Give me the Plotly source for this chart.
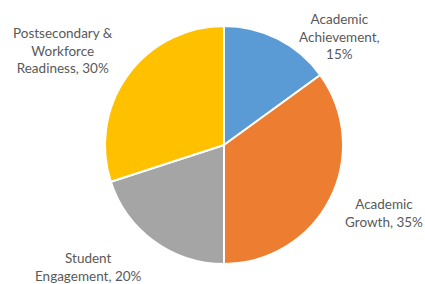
import plotly.graph_objects as go

categories = ["Academic Achievement", "Academic Growth", "Student Engagement", "Postsecondary & Workforce Readiness"]
values = [15, 35, 20, 30]
colors = ["#5B9BD5", "#ED7D31", "#A5A5A5", "#FFC000"]
label_lines = [
    ["Academic", "Achievement,", "{v}%"],
    ["Academic", "Growth, {v}%"],
    ["Student", "Engagement, {v}%"],
    ["Postsecondary &", "Workforce", "Readiness, {v}%"],
]
# label anchor positions (pixel centers)
label_pos = [(339, 36), (384, 213), (88, 267), (63, 51)]

W, H = 425, 284
cx, cy, r = 224, 145, 119

fig = go.Figure(go.Pie(
    labels=categories,
    values=values,
    marker=dict(colors=colors, line=dict(color="white", width=2)),
    sort=False,
    direction="clockwise",
    rotation=0,
    textinfo="none",
    hoverinfo="label+percent",
    showlegend=False,
    domain=dict(x=[(cx - r) / W, (cx + r) / W], y=[1 - (cy + r) / H, 1 - (cy - r) / H]),
))

for lines, v, (x, y) in zip(label_lines, values, label_pos):
    fig.add_annotation(
        x=x / W, y=1 - y / H, xref="paper", yref="paper",
        text="<br>".join(l.format(v=v) for l in lines),
        showarrow=False, xanchor="center", yanchor="middle",
        font=dict(family="Lato", size=13.5, color="#595959"),
    )

fig.update_layout(
    width=W, height=H,
    margin=dict(l=0, r=0, t=0, b=0),
    paper_bgcolor="white", plot_bgcolor="white",
)
fig.write_html("out.html", config={"displayModeBar": False},
               post_script="document.body.style.margin='0';document.body.style.overflow='hidden';")
